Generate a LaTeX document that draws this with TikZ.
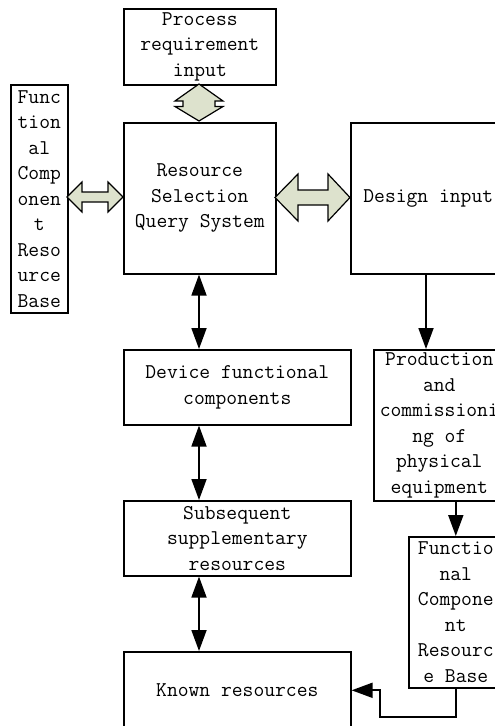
\documentclass[tikz,border=0pt]{standalone}
\usepackage{fontspec}
\usetikzlibrary{arrows.meta}
\definecolor{fatfill}{RGB}{221,226,205}
\begin{document}
\begin{tikzpicture}[x=1pt,y=-1pt,
  box/.style={draw,line width=1.6pt,align=center,inner sep=0pt,anchor=north west,
    font=\ttfamily\fontsize{21}{25.5}\selectfont},
  arr/.style={line width=1.8pt,-{Triangle[length=21pt,width=15pt]}},
  darr/.style={line width=1.8pt,{Triangle[length=21pt,width=15pt]}-{Triangle[length=21pt,width=15pt]}},
  fat/.style={draw,line width=1.2pt,fill=fatfill,line join=miter}]
\useasboundingbox (0,0) rectangle (495,726);
\clip (0,0) rectangle (495,726);

% top row
\node[box,minimum width=152pt,minimum height=76pt] (proc) at (123,8) {Process\\requirement\\input};
\node[box,minimum width=152pt,minimum height=151pt] (rsqs) at (123,122) {Resource\\Selection\\Query System};
\node[box,minimum width=57pt,minimum height=228pt] (lbase) at (10,84)
  {Func\\tion\\al\\Comp\\onen\\t\\Reso\\urce\\Base};
\node[box,minimum width=155pt,minimum height=151pt] (design) at (350,122) {Design input};

% left column
\node[box,minimum width=227pt,minimum height=75pt] (device) at (123,349) {Device functional\\components};
\node[box,minimum width=227pt,minimum height=75pt] (subseq) at (123,500) {Subsequent\\supplementary\\resources};
\node[box,minimum width=227pt,minimum height=77pt] (known) at (123,651) {Known resources};

% right column
\node[box,minimum width=131pt,minimum height=151pt] (prod) at (373,349)
  {Production\\and\\commissioni\\ng of\\physical\\equipment};
\node[box,minimum width=94pt,minimum height=151pt] (rbase) at (408,536)
  {Functio\\nal\\Compone\\nt\\Resourc\\e Base};

% fat double arrows
\draw[fat] (199,84) -- (223,101) -- (215,101) -- (215,106.5) -- (223,106.5) -- (199,121)
  -- (175,106.5) -- (183,106.5) -- (183,101) -- (175,101) -- cycle;
\draw[fat] (67,197) -- (82,182) -- (82,192) -- (108,192) -- (108,182) -- (123,197)
  -- (108,212) -- (108,202) -- (82,202) -- (82,212) -- cycle;
\draw[fat] (275,197.5) -- (298,174) -- (298,190) -- (328,190) -- (328,174) -- (350,197.5)
  -- (328,221) -- (328,205) -- (298,205) -- (298,221) -- cycle;

% connectors
\draw[darr] (rsqs.south -| 199,0) -- (device.north -| 199,0);
\draw[darr] (device.south -| 199,0) -- (subseq.north -| 199,0);
\draw[darr] (subseq.south -| 199,0) -- (known.north -| 199,0);
\draw[arr] (design.south -| 426,0) -- (prod.north -| 426,0);
\draw[arr] (rbase.north |- prod.south) -- (rbase.north);
\draw[arr] (rbase.south) -- ++(0,28) -| ([xshift=28pt]known.east) -- (known.east);
\end{tikzpicture}
\end{document}
